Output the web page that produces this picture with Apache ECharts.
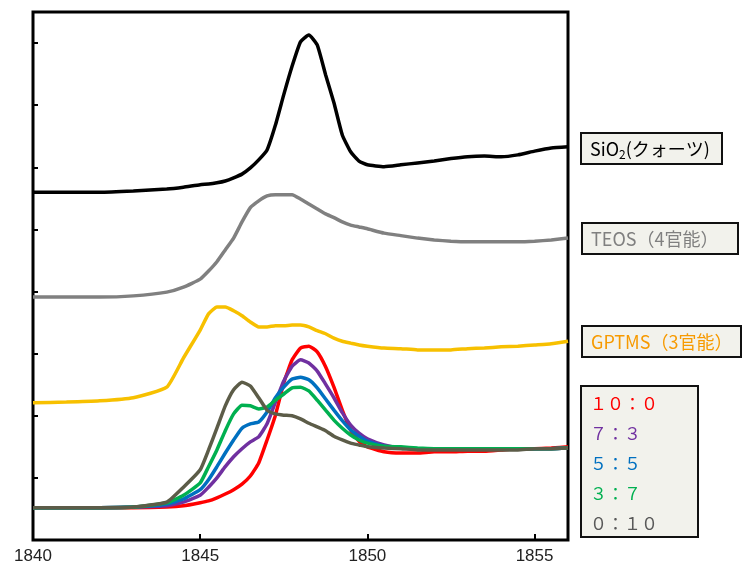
<!DOCTYPE html>
<html>
<head>
<meta charset="utf-8">
<script src="https://cdn.jsdelivr.net/npm/echarts@6/dist/echarts.min.js"></script>
<style>
  html, body { margin: 0; padding: 0; background: #fff; }
  #chart { width: 746px; height: 570px; }
</style>
</head>
<body>
<div id="chart"></div>
<script>
// wavenumber-like x positions shared by every trace
const waveX = [1840, 1841, 1842, 1843, 1844, 1844.5, 1845, 1845.25, 1845.5, 1845.75,
  1846, 1846.25, 1846.5, 1846.75, 1847, 1847.25, 1847.5, 1847.75, 1848, 1848.25,
  1848.5, 1848.75, 1849, 1849.25, 1849.5, 1849.75, 1850, 1850.5, 1851, 1851.5,
  1852, 1852.5, 1853, 1853.5, 1854, 1854.5, 1855, 1855.5, 1856]

const sio2 = [5.60, 5.60, 5.60, 5.62, 5.65, 5.68, 5.72, 5.73, 5.75, 5.78,
  5.83, 5.89, 5.99, 6.12, 6.28, 6.68, 7.17, 7.63, 8.02, 8.13,
  7.97, 7.49, 7.04, 6.52, 6.25, 6.10, 6.04, 6.01, 6.04, 6.07,
  6.10, 6.14, 6.17, 6.18, 6.17, 6.20, 6.26, 6.31, 6.33]

const teos = [3.91, 3.91, 3.91, 3.93, 3.99, 4.07, 4.20, 4.33, 4.48, 4.67,
  4.86, 5.12, 5.35, 5.46, 5.54, 5.56, 5.56, 5.56, 5.49, 5.41,
  5.33, 5.25, 5.19, 5.12, 5.07, 5.04, 5.01, 4.94, 4.90, 4.86,
  4.83, 4.81, 4.80, 4.80, 4.80, 4.80, 4.81, 4.83, 4.86]

const gptms = [2.21, 2.22, 2.24, 2.29, 2.46, 2.93, 3.38, 3.64, 3.75, 3.75,
  3.69, 3.61, 3.51, 3.43, 3.43, 3.45, 3.45, 3.46, 3.46, 3.43,
  3.37, 3.32, 3.25, 3.20, 3.17, 3.14, 3.12, 3.09, 3.08, 3.06,
  3.06, 3.06, 3.08, 3.09, 3.11, 3.12, 3.14, 3.16, 3.20]

const ratio100 = [0.52, 0.52, 0.52, 0.52, 0.53, 0.55, 0.60, 0.63, 0.68, 0.74,
  0.81, 0.90, 1.03, 1.24, 1.61, 2.01, 2.53, 2.90, 3.09, 3.12,
  3.03, 2.79, 2.46, 2.09, 1.77, 1.59, 1.50, 1.42, 1.40, 1.40,
  1.42, 1.42, 1.43, 1.43, 1.45, 1.47, 1.47, 1.48, 1.50]

const ratio73 = [0.52, 0.52, 0.52, 0.53, 0.55, 0.61, 0.72, 0.85, 1.00, 1.18,
  1.34, 1.47, 1.58, 1.66, 1.87, 2.22, 2.56, 2.80, 2.90, 2.85,
  2.72, 2.51, 2.29, 2.05, 1.85, 1.72, 1.63, 1.53, 1.48, 1.47,
  1.47, 1.47, 1.47, 1.47, 1.47, 1.47, 1.47, 1.47, 1.48]

const ratio55 = [0.52, 0.52, 0.52, 0.53, 0.58, 0.66, 0.81, 0.97, 1.18, 1.40,
  1.61, 1.80, 1.87, 1.90, 2.06, 2.29, 2.46, 2.59, 2.62, 2.58,
  2.45, 2.27, 2.09, 1.92, 1.77, 1.67, 1.59, 1.51, 1.48, 1.47,
  1.47, 1.47, 1.47, 1.47, 1.47, 1.47, 1.47, 1.47, 1.48]

const ratio37 = [0.52, 0.52, 0.52, 0.53, 0.60, 0.72, 0.92, 1.18, 1.45, 1.76,
  2.03, 2.17, 2.16, 2.11, 2.14, 2.25, 2.35, 2.45, 2.46, 2.40,
  2.25, 2.09, 1.93, 1.80, 1.69, 1.61, 1.56, 1.51, 1.50, 1.48,
  1.47, 1.47, 1.47, 1.47, 1.47, 1.47, 1.47, 1.47, 1.48]

const ratio010 = [0.52, 0.52, 0.52, 0.53, 0.61, 0.85, 1.13, 1.45, 1.80, 2.16,
  2.42, 2.54, 2.48, 2.29, 2.09, 2.03, 2.01, 2.00, 1.95, 1.88,
  1.82, 1.76, 1.67, 1.61, 1.56, 1.53, 1.50, 1.48, 1.47, 1.45,
  1.45, 1.45, 1.45, 1.45, 1.45, 1.45, 1.47, 1.47, 1.48]

const seriesNames = ['SiO2(クォーツ)', 'TEOS（4官能）', 'GPTMS（3官能）', '10：0', '7：3', '5：5', '3：7', '0：10']
const seriesValues = [sio2, teos, gptms, ratio100, ratio73, ratio55, ratio37, ratio010]
const seriesColors = ['#000000', '#808080', '#f7c000', '#ff0000', '#7030a0', '#0070c0', '#00b050', '#5c5c48']

const ratioLabels = ['１０：０', '７：３', '５：５', '３：７', '０：１０']
const ratioColors = ['#ff0000', '#7030a0', '#0070c0', '#00b050', '#595959']

const chart = echarts.init(document.getElementById('chart'))

const lines = seriesNames.map((name, i) => ({
  name,
  type: 'line',
  showSymbol: false,
  smooth: 0.15,
  data: waveX.map((x, j) => [x, seriesValues[i][j]]),
  lineStyle: { color: seriesColors[i], width: 3.5 },
  itemStyle: { color: seriesColors[i] },
  animation: false,
}))

const boxStyle = { fill: '#f2f2ec', stroke: '#111', lineWidth: 2 }
const labelFont = '"Noto Sans CJK JP", "Noto Sans", sans-serif'

const graphics = [
  { type: 'rect', shape: { x: 581, y: 133, width: 141, height: 31 }, style: boxStyle },
  {
    type: 'text', x: 590, y: 149,
    style: {
      text: '{a|SiO}{s|2}{a|(クォーツ)}',
      verticalAlign: 'middle',
      rich: {
        a: { fontSize: 18, fontFamily: labelFont, fill: '#000' },
        s: { fontSize: 12, fontFamily: labelFont, fill: '#000', padding: [10, 0, 0, 0] },
      },
    },
  },
  { type: 'rect', shape: { x: 582, y: 223, width: 156, height: 31 }, style: boxStyle },
  {
    type: 'text', x: 591, y: 239,
    style: { text: 'TEOS（4官能）', fontSize: 18, fontFamily: labelFont, fill: '#808080', verticalAlign: 'middle' },
  },
  { type: 'rect', shape: { x: 582, y: 326, width: 159, height: 31 }, style: boxStyle },
  {
    type: 'text', x: 591, y: 342,
    style: { text: 'GPTMS（3官能）', fontSize: 18, fontFamily: labelFont, fill: '#f79a00', verticalAlign: 'middle' },
  },
  { type: 'rect', shape: { x: 581, y: 386, width: 117, height: 151 }, style: boxStyle },
]
ratioLabels.forEach((t, i) => {
  graphics.push({
    type: 'text', x: 590, y: 404 + i * 30,
    style: { text: t, fontSize: 17, fontFamily: labelFont, fill: ratioColors[i], verticalAlign: 'middle' },
  })
})

chart.setOption({
  backgroundColor: '#fff',
  animation: false,
  grid: {
    left: 33, right: 178, top: 12, bottom: 30,
    show: true, borderColor: '#000', borderWidth: 3,
  },
  xAxis: {
    type: 'value',
    min: 1840, max: 1856, interval: 5,
    axisLine: { show: false },
    axisTick: { inside: true, length: 6, lineStyle: { color: '#000', width: 2 } },
    splitLine: { show: false },
    axisLabel: {
      color: '#222', fontSize: 17, fontFamily: 'Liberation Sans, Arial, sans-serif', margin: 8,
      formatter: (v) => String(v),
    },
  },
  yAxis: {
    type: 'value',
    min: 0, max: 8.5, interval: 1,
    axisLine: { show: false },
    axisTick: { show: true, inside: true, length: 5, lineStyle: { color: '#000', width: 2 } },
    splitLine: { show: false },
    axisLabel: { show: false },
  },
  series: lines,
  graphic: graphics,
})
</script>
</body>
</html>
